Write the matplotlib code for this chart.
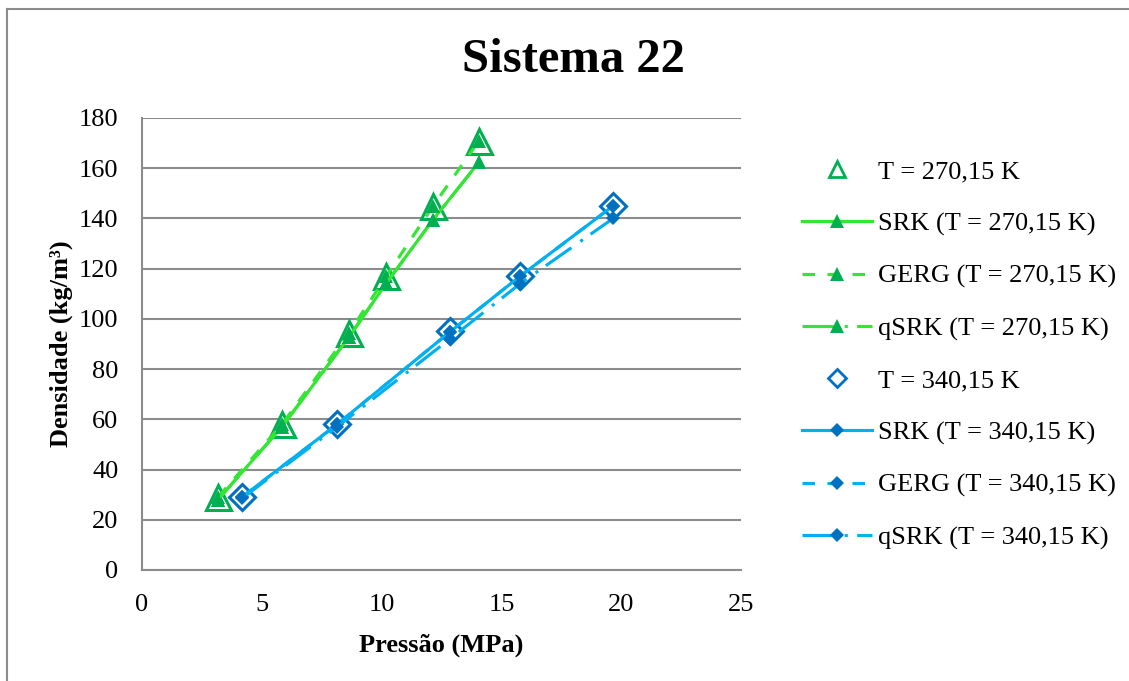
import matplotlib
matplotlib.use("Agg")
import matplotlib.pyplot as plt
from matplotlib.lines import Line2D

plt.rcParams['font.family'] = ['Liberation Serif', 'DejaVu Serif']

# Pressure (MPa) and density (kg/m³), Sistema 22
p_270 = [3.17, 5.84, 8.64, 10.20, 12.15, 14.07]
rho_exp_270 = [29.0, 58.0, 94.5, 117.0, 145.0, 171.0]
rho_srk_270 = [28.0, 57.0, 92.8, 114.3, 139.5, 162.5]
rho_gerg_270 = [29.0, 58.0, 94.5, 117.0, 145.0, 171.0]
rho_qsrk_270 = [28.0, 57.0, 92.8, 114.3, 139.5, 162.5]

p_340 = [4.17, 8.14, 12.85, 15.78, 19.66]
rho_exp_340 = [29.0, 58.0, 95.0, 117.0, 145.0]
rho_srk_340 = [29.0, 58.0, 94.8, 117.0, 145.0]
rho_gerg_340 = [29.0, 58.0, 94.8, 117.0, 145.0]
rho_qsrk_340 = [28.5, 57.0, 92.0, 114.0, 140.0]

labels = ["T = 270,15 K", "SRK (T = 270,15 K)", "GERG (T = 270,15 K)",
          "qSRK (T = 270,15 K)", "T = 340,15 K", "SRK (T = 340,15 K)",
          "GERG (T = 340,15 K)", "qSRK (T = 340,15 K)"]

x_ticks = [0, 5, 10, 15, 20, 25]
y_ticks = [0, 20, 40, 60, 80, 100, 120, 140, 160, 180]

green_line = "#33E633"
green_mark = "#00B050"
blue_line = "#00B0F0"
blue_mark = "#0070C0"
grid_col = "#8C8C8C"

W, H = 1129, 681
fig = plt.figure(figsize=(W / 100, H / 100), dpi=100)
fig.patch.set_facecolor("white")

# outer chart border (top and left edges visible)
fig.add_artist(Line2D([7 / W, 7 / W], [0, 1 - 9 / H], transform=fig.transFigure,
                      color=grid_col, lw=1.5))
fig.add_artist(Line2D([7 / W, 1], [1 - 9 / H, 1 - 9 / H], transform=fig.transFigure,
                      color=grid_col, lw=1.5))

ax = fig.add_axes([142 / W, (H - 570) / H, (741 - 142) / W, (570 - 118) / H])
ax.set_xlim(0, 25)
ax.set_ylim(0, 180)
ax.set_xticks(x_ticks)
ax.set_yticks(y_ticks)
ax.yaxis.grid(True, color=grid_col, lw=1.5)
ax.set_axisbelow(True)
for s in ["top", "right"]:
    ax.spines[s].set_visible(False)
for s in ["left", "bottom"]:
    ax.spines[s].set_color(grid_col)
    ax.spines[s].set_linewidth(1.5)
ax.tick_params(axis="both", length=0, labelsize=19)
ax.tick_params(axis="y", pad=17)
ax.tick_params(axis="x", pad=17)

lw = 2.25
dash = (4, 4)
dashdot = (10, 3.5, 1, 3)

open_tri = dict(marker="^", ms=18, mfc="white", mec=green_mark, mew=2.2, ls="none")
fill_tri = dict(marker="^", ms=9.5, mfc=green_mark, mec=green_mark, mew=0)
open_dia = dict(marker="D", ms=13, mfc="white", mec=blue_mark, mew=2.2, ls="none")
fill_dia = dict(marker="D", ms=6.8, mfc=blue_mark, mec=blue_mark, mew=0)

ax.plot(p_270, rho_exp_270, zorder=3, clip_on=False, **open_tri)
ax.plot(p_270, rho_srk_270, color=green_line, lw=lw, zorder=4, **fill_tri)
ax.plot(p_270, rho_gerg_270, color=green_line, lw=lw, dashes=dash, zorder=4, **fill_tri)
ax.plot(p_270, rho_qsrk_270, color=green_line, lw=lw, dashes=dashdot, zorder=4, **fill_tri)

ax.plot(p_340, rho_exp_340, zorder=3, clip_on=False, **open_dia)
ax.plot(p_340, rho_srk_340, color=blue_line, lw=lw, zorder=4, **fill_dia)
ax.plot(p_340, rho_gerg_340, color=blue_line, lw=lw, dashes=dash, zorder=4, **fill_dia)
ax.plot(p_340, rho_qsrk_340, color=blue_line, lw=lw, dashes=dashdot, zorder=4, **fill_dia)

ax.set_xlabel("Pressão (MPa)", fontsize=19, fontweight="bold", labelpad=13)
ax.set_ylabel("Densidade (kg/m³)", fontsize=19, fontweight="bold", labelpad=4)

fig.text(573 / W, 1 - 60 / H, "Sistema 22", fontsize=35, fontweight="bold",
         ha="center", va="center")

# legend proxies with smaller open markers
handles = [
    Line2D([], [], marker="^", ms=12, mfc="white", mec=green_mark, mew=2, ls="none"),
    Line2D([], [], color=green_line, lw=lw, **fill_tri),
    Line2D([], [], color=green_line, lw=lw, dashes=dash, **fill_tri),
    Line2D([], [], color=green_line, lw=lw, dashes=dashdot, **fill_tri),
    Line2D([], [], marker="D", ms=9, mfc="white", mec=blue_mark, mew=2, ls="none"),
    Line2D([], [], color=blue_line, lw=lw, **fill_dia),
    Line2D([], [], color=blue_line, lw=lw, dashes=dash, **fill_dia),
    Line2D([], [], color=blue_line, lw=lw, dashes=dashdot, **fill_dia),
]
fig.legend(handles, labels, loc="upper left", bbox_to_anchor=(802 / W, 1 - 160 / H),
           frameon=False, fontsize=19, handlelength=2.65, handletextpad=0.22,
           labelspacing=1.08, borderpad=0, borderaxespad=0, numpoints=1)

fig.savefig("out.png", dpi=100, facecolor="white")
